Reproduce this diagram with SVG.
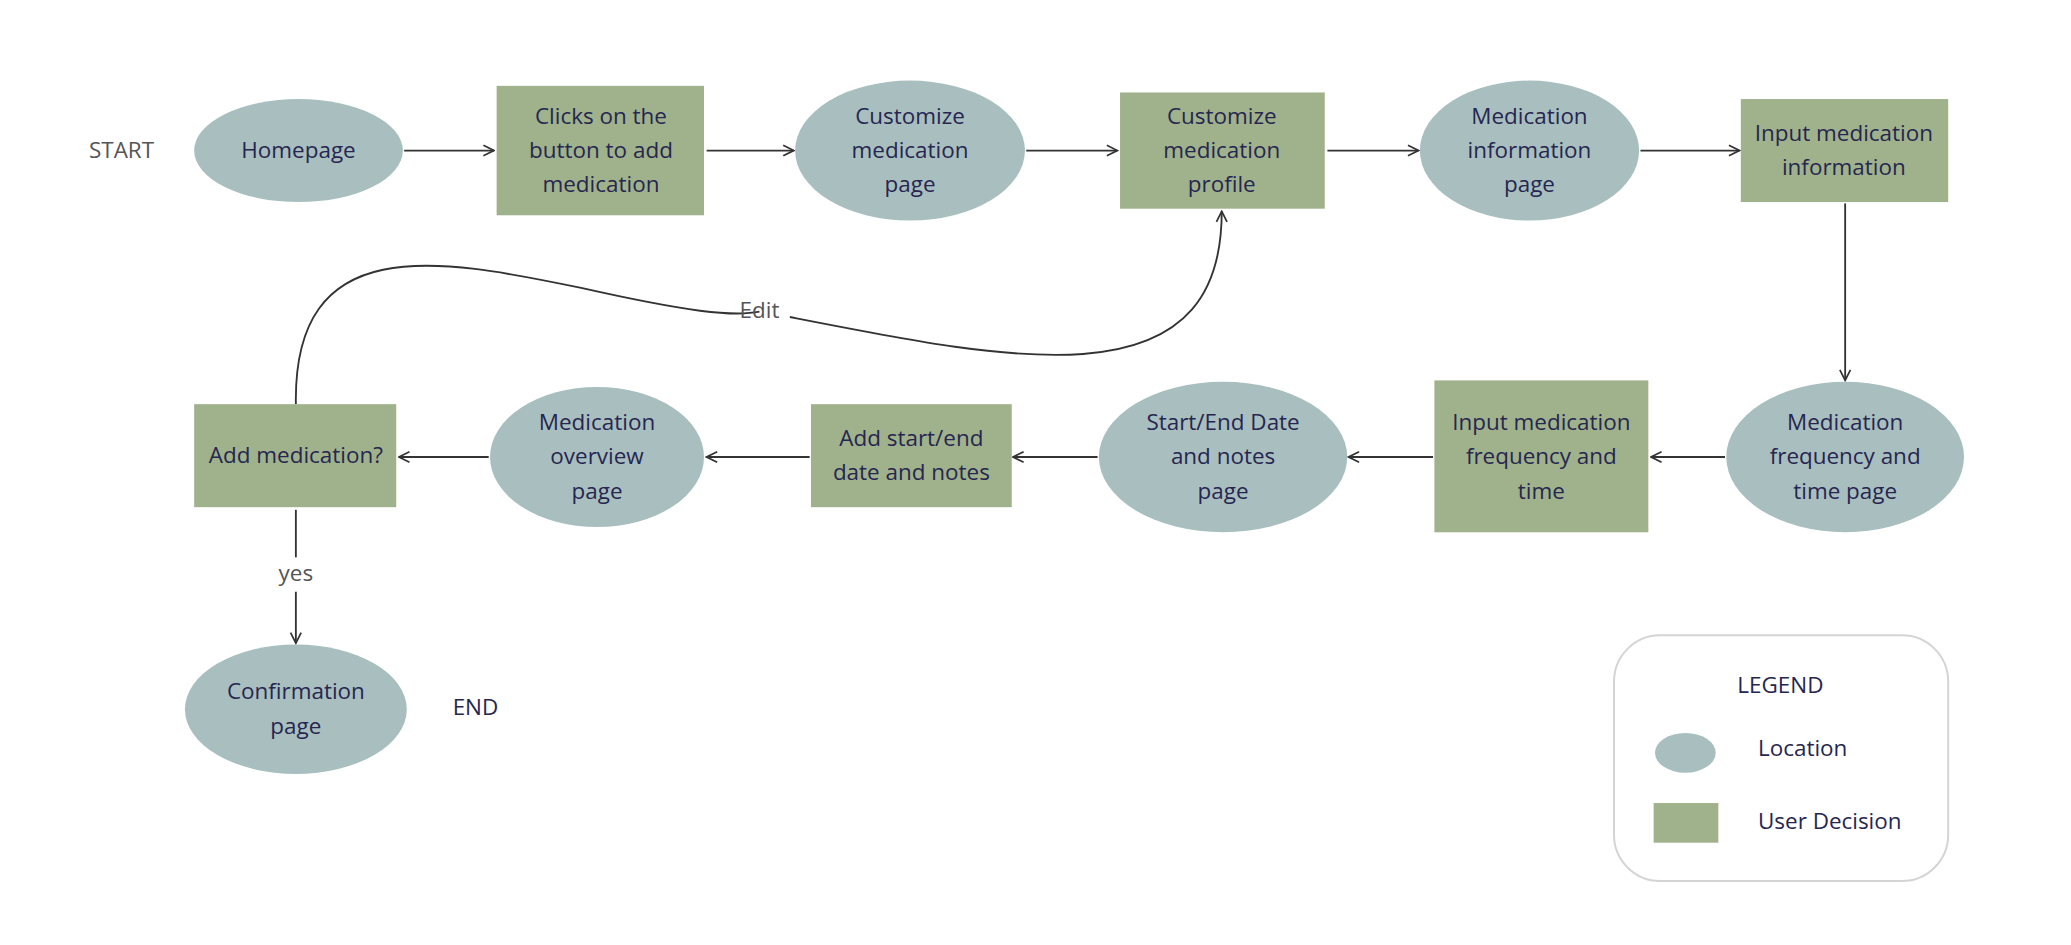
<svg xmlns="http://www.w3.org/2000/svg" width="2071" height="945" viewBox="0 0 2071 945">
<style>
.loc{fill:#a9bfbf}
.dec{fill:#a0b28c}
text{font-family:"Open Sans","Liberation Sans",sans-serif;font-size:17px;fill:#262650;text-anchor:middle;dominant-baseline:middle}
.lbl{fill:#555;}
.c{fill:none;stroke:#333;stroke-width:1.4}
</style>
<defs><marker id="a" viewBox="0 0 10 10" refX="9" refY="5" markerWidth="10" markerHeight="10" markerUnits="userSpaceOnUse" orient="auto"><path d="M1,1 L9,5 L1,9" fill="none" stroke="#333" stroke-width="1.3"/></marker></defs>
<rect width="2071" height="945" fill="#fff"/>
<g transform="scale(1.3208)">
<text x="92" y="115" class="lbl">START</text>
<text x="360" y="537">END</text>
<g id="connectors">
<path class="c" marker-end="url(#a)" d="M306,114 H374"/>
<path class="c" marker-end="url(#a)" d="M535,114 H601"/>
<path class="c" marker-end="url(#a)" d="M777,114 H846"/>
<path class="c" marker-end="url(#a)" d="M1005,114 H1074"/>
<path class="c" marker-end="url(#a)" d="M1242,114 H1317"/>
<path class="c" marker-end="url(#a)" d="M1397,154 V288"/>
<path class="c" marker-end="url(#a)" d="M1306,346 H1250"/>
<path class="c" marker-end="url(#a)" d="M1085,346 H1021"/>
<path class="c" marker-end="url(#a)" d="M831,346 H767"/>
<path class="c" marker-end="url(#a)" d="M613,346 H535"/>
<path class="c" marker-end="url(#a)" d="M370,346 H302"/>
<path class="c" d="M224,386 V422"/>
<path class="c" marker-end="url(#a)" d="M224,448 V487"/>
<text x="224" y="435" class="lbl">yes</text>
<path class="c" marker-end="url(#a)" d="M224,306 C222,175 330,195 440,218 C520,236 555,240 575,236 M598,240 C690,258 760,272 820,268 C900,262 925,220 925,160"/>
<text x="575" y="236" class="lbl">Edit</text>
</g>
<g id="n1"><ellipse class="loc" cx="226" cy="114" rx="79" ry="39"/><text x="226" y="115">Homepage</text></g>
<g id="n2"><rect class="dec" x="376" y="65" width="157" height="98"/><text x="455" y="89">Clicks on the</text><text x="455" y="115">button to add</text><text x="455" y="141">medication</text></g>
<g id="n3"><ellipse class="loc" cx="689" cy="114" rx="87" ry="53"/><text x="689" y="89">Customize</text><text x="689" y="115">medication</text><text x="689" y="141">page</text></g>
<g id="n4"><rect class="dec" x="848" y="70" width="155" height="88"/><text x="925" y="89">Customize</text><text x="925" y="115">medication</text><text x="925" y="141">profile</text></g>
<g id="n5"><ellipse class="loc" cx="1158" cy="114" rx="83" ry="53"/><text x="1158" y="89">Medication</text><text x="1158" y="115">information</text><text x="1158" y="141">page</text></g>
<g id="n6"><rect class="dec" x="1318" y="75" width="157" height="78"/><text x="1396" y="102">Input medication</text><text x="1396" y="128">information</text></g>
<g id="n7"><ellipse class="loc" cx="1397" cy="346" rx="90" ry="57"/><text x="1397" y="321">Medication</text><text x="1397" y="347">frequency and</text><text x="1397" y="373">time page</text></g>
<g id="n8"><rect class="dec" x="1086" y="288" width="162" height="115"/><text x="1167" y="321">Input medication</text><text x="1167" y="347">frequency and</text><text x="1167" y="373">time</text></g>
<g id="n9"><ellipse class="loc" cx="926" cy="346" rx="94" ry="57"/><text x="926" y="321">Start/End Date</text><text x="926" y="347">and notes</text><text x="926" y="373">page</text></g>
<g id="n10"><rect class="dec" x="614" y="306" width="152" height="78"/><text x="690" y="333">Add start/end</text><text x="690" y="359">date and notes</text></g>
<g id="n11"><ellipse class="loc" cx="452" cy="346" rx="81" ry="53"/><text x="452" y="321">Medication</text><text x="452" y="347">overview</text><text x="452" y="373">page</text></g>
<g id="n12"><rect class="dec" x="147" y="306" width="153" height="78"/><text x="224" y="346">Add medication?</text></g>
<g id="n13"><ellipse class="loc" cx="224" cy="537" rx="84" ry="49"/><text x="224" y="525">Confirmation</text><text x="224" y="551">page</text></g>
<g id="legend">
<rect x="1222" y="481" width="253" height="186" rx="35" fill="none" stroke="#d4d4d4" stroke-width="1.5"/>
<text x="1348" y="520">LEGEND</text>
<ellipse class="loc" cx="1276" cy="570" rx="23" ry="15"/>
<text x="1331" y="568" style="text-anchor:start">Location</text>
<rect class="dec" x="1252" y="608" width="49" height="30"/>
<text x="1331" y="623" style="text-anchor:start">User Decision</text>
</g>
</g>
</svg>
